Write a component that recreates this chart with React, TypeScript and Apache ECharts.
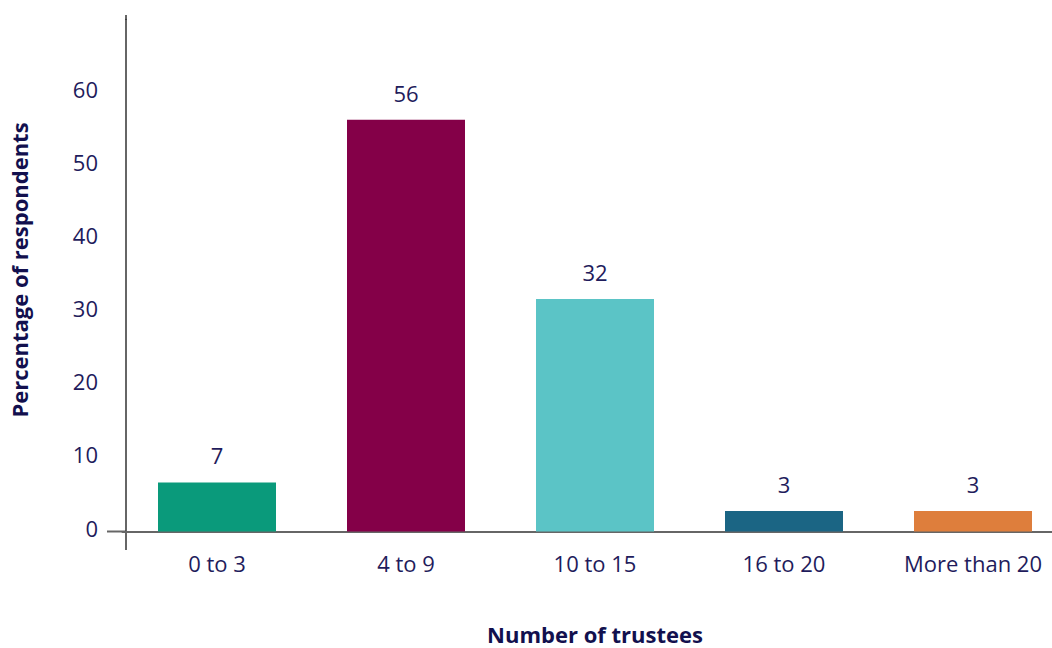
import React, { useEffect, useRef } from "react";
import * as echarts from "echarts";

const categories = ["0 to 3", "4 to 9", "10 to 15", "16 to 20", "More than 20"];
const values = [6.7, 56.3, 31.8, 2.8, 2.8];
const valueLabels = ["7", "56", "32", "3", "3"];
const barColors = ["#0a9a7b", "#840048", "#5bc4c6", "#1b6584", "#de7e3c"];
const yTicks = [0, 10, 20, 30, 40, 50, 60];

const TEXT = "#1f1c5c";
const TITLE = "#12104e";
const AXIS = "#666666";
const YAXIS = "#333333";
const FONT = "'Open Sans', 'Noto Sans', sans-serif";

export default function App() {
  const ref = useRef<HTMLDivElement>(null);
  useEffect(() => {
    if (!ref.current) return;
    const chart = echarts.init(ref.current, undefined, { renderer: "svg" });
    chart.setOption({
      animation: false,
      textStyle: { fontFamily: FONT },
      grid: {
        left: 122.5,
        top: 19.5,
        bottom: 116.5,
        right: -15.5,
        containLabel: false,
        outerBoundsMode: "none",
      },
      xAxis: {
        type: "category",
        data: categories,
        axisLine: { show: true, lineStyle: { color: AXIS, width: 2 } },
        axisTick: { show: false },
        axisLabel: { color: TEXT, fontSize: 22, margin: 20, fontFamily: FONT },
        name: "Number of trustees",
        nameLocation: "middle",
        nameGap: 91,
        nameTextStyle: { color: TITLE, fontSize: 22, fontWeight: "bold", fontFamily: FONT },
      },
      yAxis: {
        type: "value",
        min: 0,
        max: 70,
        interval: 10,
        offset: -3.5,
        splitLine: { show: false },
        axisLine: { show: true, lineStyle: { color: YAXIS, width: 1.5 } },
        axisTick: { show: false },
        axisLabel: {
          color: TEXT,
          fontSize: 22,
          margin: 28,
          fontFamily: FONT,
          verticalAlign: "bottom",
          lineHeight: 8,
          formatter: (v: number) => (yTicks.includes(v) ? String(v) : ""),
        },
      },
      graphic: [
        {
          type: "line",
          shape: { x1: 107, y1: 531.5, x2: 126, y2: 531.5 },
          style: { stroke: AXIS, lineWidth: 2 },
        },
        {
          type: "line",
          shape: { x1: 126, y1: 531.5, x2: 126, y2: 550 },
          style: { stroke: YAXIS, lineWidth: 1.5 },
        },
        {
          type: "line",
          shape: { x1: 126, y1: 15, x2: 126, y2: 20 },
          style: { stroke: YAXIS, lineWidth: 1.5 },
        },
        {
          type: "text",
          x: 19,
          y: 270,
          rotation: Math.PI / 2,
          style: {
            text: "Percentage of respondents",
            fill: TITLE,
            font: `bold 22px ${FONT}`,
            align: "center",
            verticalAlign: "middle",
          },
        },
      ],
      series: [
        {
          type: "bar",
          barWidth: 118,
          data: values.map((v, i) => ({ value: v, itemStyle: { color: barColors[i] } })),
          label: {
            show: true,
            position: "top",
            distance: 16,
            color: TEXT,
            fontSize: 22,
            fontFamily: FONT,
            formatter: (p: any) => valueLabels[p.dataIndex],
          },
          z: 1,
        },
      ],
    });
    return () => chart.dispose();
  }, []);
  return <div ref={ref} style={{ width: 1052, height: 648, position: "absolute", left: 0, top: 0 }} />;
}
